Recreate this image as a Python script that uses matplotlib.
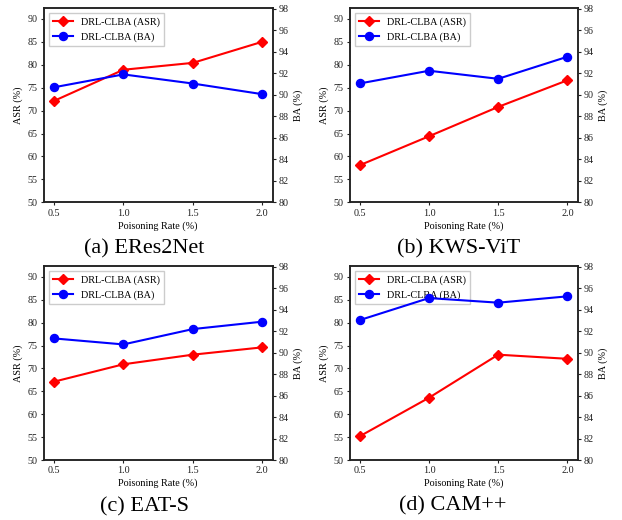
import numpy as np
import matplotlib
matplotlib.use('Agg')
import matplotlib.pyplot as plt

plt.rcParams['font.family'] = ['Liberation Serif', 'DejaVu Serif']
plt.rcParams['font.size'] = 7.3

rates = [0.5, 1.0, 1.5, 2.0]
rate_labels = ['0.5', '1.0', '1.5', '2.0']

asr_eres2net = [72.1, 78.9, 80.4, 85.0]
ba_eres2net = [90.7, 91.9, 91.05, 90.06]
asr_kwsvit = [58.1, 64.4, 70.8, 76.6]
ba_kwsvit = [91.06, 92.24, 91.49, 93.54]
asr_eats = [67.1, 70.9, 73.0, 74.6]
ba_eats = [91.33, 90.77, 92.2, 92.89]
asr_campp = [55.2, 63.6, 73.0, 72.1]
ba_campp = [93.04, 95.09, 94.66, 95.25]

captions = ['(a) ERes2Net', '(b) KWS-ViT', '(c) EAT-S', '(d) CAM++']
asr_all = [asr_eres2net, asr_kwsvit, asr_eats, asr_campp]
ba_all = [ba_eres2net, ba_kwsvit, ba_eats, ba_campp]

W, H = 622, 520
fig = plt.figure(figsize=(W / 100, H / 100), dpi=100)

# axes boxes in pixels: left, top, right, bottom
boxes = [(43.5, 8.3, 272.7, 202.3),
         (349.5, 8.3, 577.7, 202.3),
         (43.5, 266.3, 272.7, 460.0),
         (349.5, 266.3, 577.7, 460.0)]
cap_pos = [(144, 253), (459, 253), (144, 511.5), (453, 510)]

for i in range(4):
    l, t, r, b = boxes[i]
    ax1 = fig.add_axes([l / W, 1 - b / H, (r - l) / W, (b - t) / H])
    ax2 = ax1.twinx()
    l1, = ax1.plot(rates, asr_all[i], color='red', marker='D', markersize=5.5,
                   linewidth=1.5, label='DRL-CLBA (ASR)')
    l2, = ax2.plot(rates, ba_all[i], color='blue', marker='o', markersize=5.8,
                   linewidth=1.5, label='DRL-CLBA (BA)')
    ax1.set_ylim(50, 92.3)
    ax1.set_yticks(np.arange(50, 91, 5))
    ax2.set_ylim(80, 98.05)
    ax2.set_yticks(np.arange(80, 99, 2))
    ax1.set_xticks(rates)
    ax1.set_xticklabels(rate_labels)
    ax1.set_xlabel('Poisoning Rate (%)', labelpad=2.5)
    ax1.set_ylabel('ASR (%)', labelpad=3)
    ax2.set_ylabel('BA (%)', labelpad=3)
    for ax in (ax1, ax2):
        ax.tick_params(labelsize=7.3, colors='#222222', length=2.5, pad=2)
        for s in ax.spines.values():
            s.set_color('#222222')
            s.set_linewidth(1.1)
    ax1.legend(handles=[l1, l2], loc='upper left', fontsize=7.3,
               fancybox=False, edgecolor='#cccccc', framealpha=1)
    cx, cy = cap_pos[i]
    fig.text(cx / W, 1 - cy / H, captions[i], ha='center', va='baseline',
             fontsize=16)

fig.savefig('out.png', dpi=100)
